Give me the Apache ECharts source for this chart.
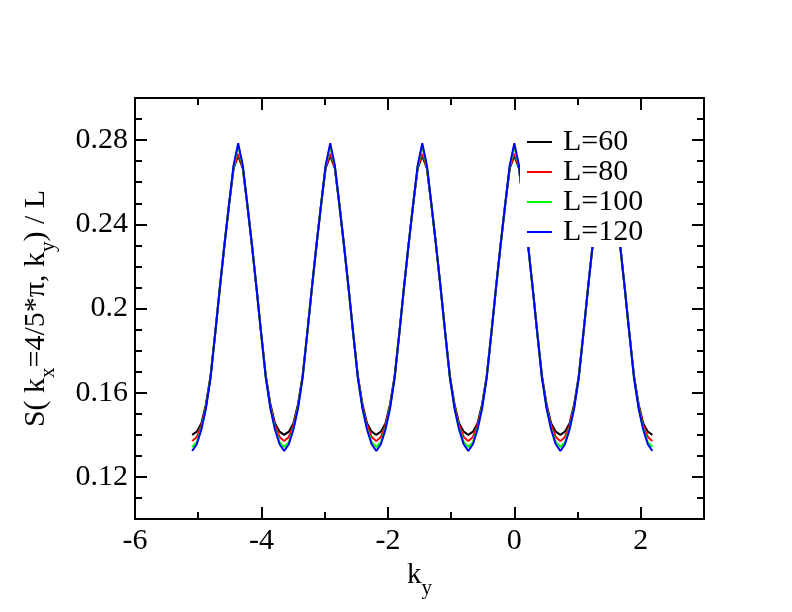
<!DOCTYPE html>
<html>
<head>
<meta charset="utf-8">
<script src="https://cdn.jsdelivr.net/npm/echarts@6/dist/echarts.min.js"></script>
<style>
html,body{margin:0;padding:0;background:#fff;}
#chart{width:792px;height:612px;}
</style>
</head>
<body>
<div id="chart"></div>
<script>
// k_y sample positions
const kyValues = [
-5.096,
-5.023,-4.950,-4.878,-4.805,-4.732,-4.659,-4.586,-4.514,-4.441,-4.368,-4.295,-4.222,-4.150,-4.077,-4.004,-3.931,-3.858,-3.786,-3.713,-3.640,
-3.567,-3.494,-3.422,-3.349,-3.276,-3.203,-3.130,-3.058,-2.985,-2.912,-2.839,-2.766,-2.694,-2.621,-2.548,-2.475,-2.402,-2.330,-2.257,-2.184,
-2.111,-2.038,-1.966,-1.893,-1.820,-1.747,-1.674,-1.602,-1.529,-1.456,-1.383,-1.310,-1.238,-1.165,-1.092,-1.019,-0.946,-0.874,-0.801,-0.728,
-0.655,-0.582,-0.510,-0.437,-0.364,-0.291,-0.218,-0.146,-0.073,0.000,0.073,0.146,0.218,0.291,0.364,0.437,0.510,0.582,0.655,0.728,
0.801,0.874,0.946,1.019,1.092,1.165,1.238,1.310,1.383,1.456,1.529,1.602,1.674,1.747,1.820,1.893,1.966,2.038,2.111,2.184
];

const sL60 = [
0.1400,
0.1415,0.1455,0.1545,0.168,0.188,0.2095,0.230,0.249,0.2665,0.2725,0.2665,0.249,0.230,0.2095,0.188,0.168,0.1545,0.1455,0.1415,0.1400,
0.1415,0.1455,0.1545,0.168,0.188,0.2095,0.230,0.249,0.2665,0.2725,0.2665,0.249,0.230,0.2095,0.188,0.168,0.1545,0.1455,0.1415,0.1400,
0.1415,0.1455,0.1545,0.168,0.188,0.2095,0.230,0.249,0.2665,0.2725,0.2665,0.249,0.230,0.2095,0.188,0.168,0.1545,0.1455,0.1415,0.1400,
0.1415,0.1455,0.1545,0.168,0.188,0.2095,0.230,0.249,0.2665,0.2725,0.2665,0.249,0.230,0.2095,0.188,0.168,0.1545,0.1455,0.1415,0.1400,
0.1415,0.1455,0.1545,0.168,0.188,0.2095,0.230,0.249,0.2665,0.2725,0.2665,0.249,0.230,0.2095,0.188,0.168,0.1545,0.1455,0.1415,0.1400
];
const sL80 = [
0.1370,
0.1390,0.1445,0.1535,0.1675,0.188,0.2095,0.230,0.249,0.2670,0.2735,0.2670,0.249,0.230,0.2095,0.188,0.1675,0.1535,0.1445,0.1390,0.1370,
0.1390,0.1445,0.1535,0.1675,0.188,0.2095,0.230,0.249,0.2670,0.2735,0.2670,0.249,0.230,0.2095,0.188,0.1675,0.1535,0.1445,0.1390,0.1370,
0.1390,0.1445,0.1535,0.1675,0.188,0.2095,0.230,0.249,0.2670,0.2735,0.2670,0.249,0.230,0.2095,0.188,0.1675,0.1535,0.1445,0.1390,0.1370,
0.1390,0.1445,0.1535,0.1675,0.188,0.2095,0.230,0.249,0.2670,0.2735,0.2670,0.249,0.230,0.2095,0.188,0.1675,0.1535,0.1445,0.1390,0.1370,
0.1390,0.1445,0.1535,0.1675,0.188,0.2095,0.230,0.249,0.2670,0.2735,0.2670,0.249,0.230,0.2095,0.188,0.1675,0.1535,0.1445,0.1390,0.1370
];
const sL100 = [
0.1342,
0.1365,0.1430,0.1530,0.167,0.188,0.2095,0.230,0.249,0.2675,0.2770,0.2675,0.249,0.230,0.2095,0.188,0.167,0.1530,0.1430,0.1365,0.1342,
0.1365,0.1430,0.1530,0.167,0.188,0.2095,0.230,0.249,0.2675,0.2770,0.2675,0.249,0.230,0.2095,0.188,0.167,0.1530,0.1430,0.1365,0.1342,
0.1365,0.1430,0.1530,0.167,0.188,0.2095,0.230,0.249,0.2675,0.2770,0.2675,0.249,0.230,0.2095,0.188,0.167,0.1530,0.1430,0.1365,0.1342,
0.1365,0.1430,0.1530,0.167,0.188,0.2095,0.230,0.249,0.2675,0.2770,0.2675,0.249,0.230,0.2095,0.188,0.167,0.1530,0.1430,0.1365,0.1342,
0.1365,0.1430,0.1530,0.167,0.188,0.2095,0.230,0.249,0.2675,0.2770,0.2675,0.249,0.230,0.2095,0.188,0.167,0.1530,0.1430,0.1365,0.1342
];
const sL120 = [
0.1323,
0.1355,0.1425,0.1525,0.167,0.188,0.2095,0.230,0.249,0.2680,0.2785,0.2680,0.249,0.230,0.2095,0.188,0.167,0.1525,0.1425,0.1355,0.1323,
0.1355,0.1425,0.1525,0.167,0.188,0.2095,0.230,0.249,0.2680,0.2785,0.2680,0.249,0.230,0.2095,0.188,0.167,0.1525,0.1425,0.1355,0.1323,
0.1355,0.1425,0.1525,0.167,0.188,0.2095,0.230,0.249,0.2680,0.2785,0.2680,0.249,0.230,0.2095,0.188,0.167,0.1525,0.1425,0.1355,0.1323,
0.1355,0.1425,0.1525,0.167,0.188,0.2095,0.230,0.249,0.2680,0.2785,0.2680,0.249,0.230,0.2095,0.188,0.167,0.1525,0.1425,0.1355,0.1323,
0.1355,0.1425,0.1525,0.167,0.188,0.2095,0.230,0.249,0.2680,0.2785,0.2680,0.249,0.230,0.2095,0.188,0.167,0.1525,0.1425,0.1355,0.1323
];

const seriesNames = ['L=60', 'L=80', 'L=100', 'L=120'];
const seriesColors = ['#000000', '#ff0000', '#00ff00', '#0000ff'];
const seriesValues = [sL60, sL80, sL100, sL120];

const xTickLabels = [-6, -4, -2, 0, 2];
const yTickLabels = [0.12, 0.16, 0.20, 0.24, 0.28];

const FONT = 'Liberation Serif';
const axLine = { color: '#000', width: 2 };

function xAx(pos, major, withLabels) {
  const a = {
    type: 'value', position: pos, min: -6, max: 3, interval: 1,
    axisLine: { show: !major, onZero: false, lineStyle: axLine },
    splitLine: { show: false },
    axisTick: { show: true, inside: true, length: major ? 12 : 7, lineStyle: axLine },
    axisLabel: { show: false }
  };
  if (major) a.axisTick.customValues = xTickLabels;
  if (withLabels) {
    a.axisLabel = {
      show: true, customValues: xTickLabels, margin: 7,
      fontFamily: FONT, fontSize: 30, color: '#000',
      formatter: v => String(Math.round(v))
    };
    a.name = '{m|k}{s|y}';
    a.nameLocation = 'middle';
    a.nameGap = 38;
    a.nameTextStyle = {
      fontFamily: FONT,
      rich: {
        m: { fontFamily: FONT, fontSize: 29, color: '#000', verticalAlign: 'bottom', padding: [0, 0, 9, 0] },
        s: { fontFamily: FONT, fontSize: 21, color: '#000', verticalAlign: 'bottom' }
      }
    };
  }
  return a;
}

function yAx(pos, major, withLabels) {
  const a = {
    type: 'value', position: pos, min: 0.10, max: 0.30, interval: 0.01,
    axisLine: { show: !major, onZero: false, lineStyle: axLine },
    splitLine: { show: false },
    axisTick: { show: true, inside: true, length: major ? 12 : 7, lineStyle: axLine },
    axisLabel: { show: false }
  };
  if (major) a.axisTick.customValues = yTickLabels;
  if (withLabels) {
    a.axisLabel = {
      show: true, customValues: yTickLabels, margin: 7,
      fontFamily: FONT, fontSize: 30, color: '#000',
      formatter: v => (Math.round(v * 100) / 100).toString()
    };
    a.name = '{m|S( k}{s|x}{m|=4/5*π, k}{s|y}{m|) / L}';
    a.nameLocation = 'middle';
    a.nameGap = 76;
    a.nameTextStyle = {
      fontFamily: FONT,
      rich: {
        m: { fontFamily: FONT, fontSize: 30, color: '#000', verticalAlign: 'bottom', padding: [0, 0, 8, 0] },
        s: { fontFamily: FONT, fontSize: 21, color: '#000', verticalAlign: 'bottom' }
      }
    };
  }
  return a;
}

const chart = echarts.init(document.getElementById('chart'), null, { renderer: 'canvas' });
chart.setOption({
  animation: false,
  backgroundColor: '#ffffff',
  textStyle: { fontFamily: FONT },
  grid: { left: 135, right: 88, top: 98, bottom: 93, containLabel: false },
  xAxis: [xAx('bottom', false, true), xAx('bottom', true, false), xAx('top', false, false), xAx('top', true, false)],
  yAxis: [yAx('left', false, true), yAx('left', true, false), yAx('right', false, false), yAx('right', true, false)],
  legend: {
    orient: 'vertical', left: 520, top: 127,
    padding: [0, 8, 0, 7], itemGap: 0,
    backgroundColor: '#ffffff',
    icon: 'rect', itemWidth: 25, itemHeight: 2,
    textStyle: { fontFamily: FONT, fontSize: 30, color: '#000', lineHeight: 28, padding: [0, 0, 0, 6] },
    data: seriesNames
  },
  series: seriesNames.map((n, i) => ({
    name: n, type: 'line', xAxisIndex: 0, yAxisIndex: 0,
    showSymbol: false, symbol: 'none',
    lineStyle: { color: seriesColors[i], width: 2 },
    itemStyle: { color: seriesColors[i] },
    data: kyValues.map((x, j) => [x, seriesValues[i][j]])
  }))
});
</script>
</body>
</html>
